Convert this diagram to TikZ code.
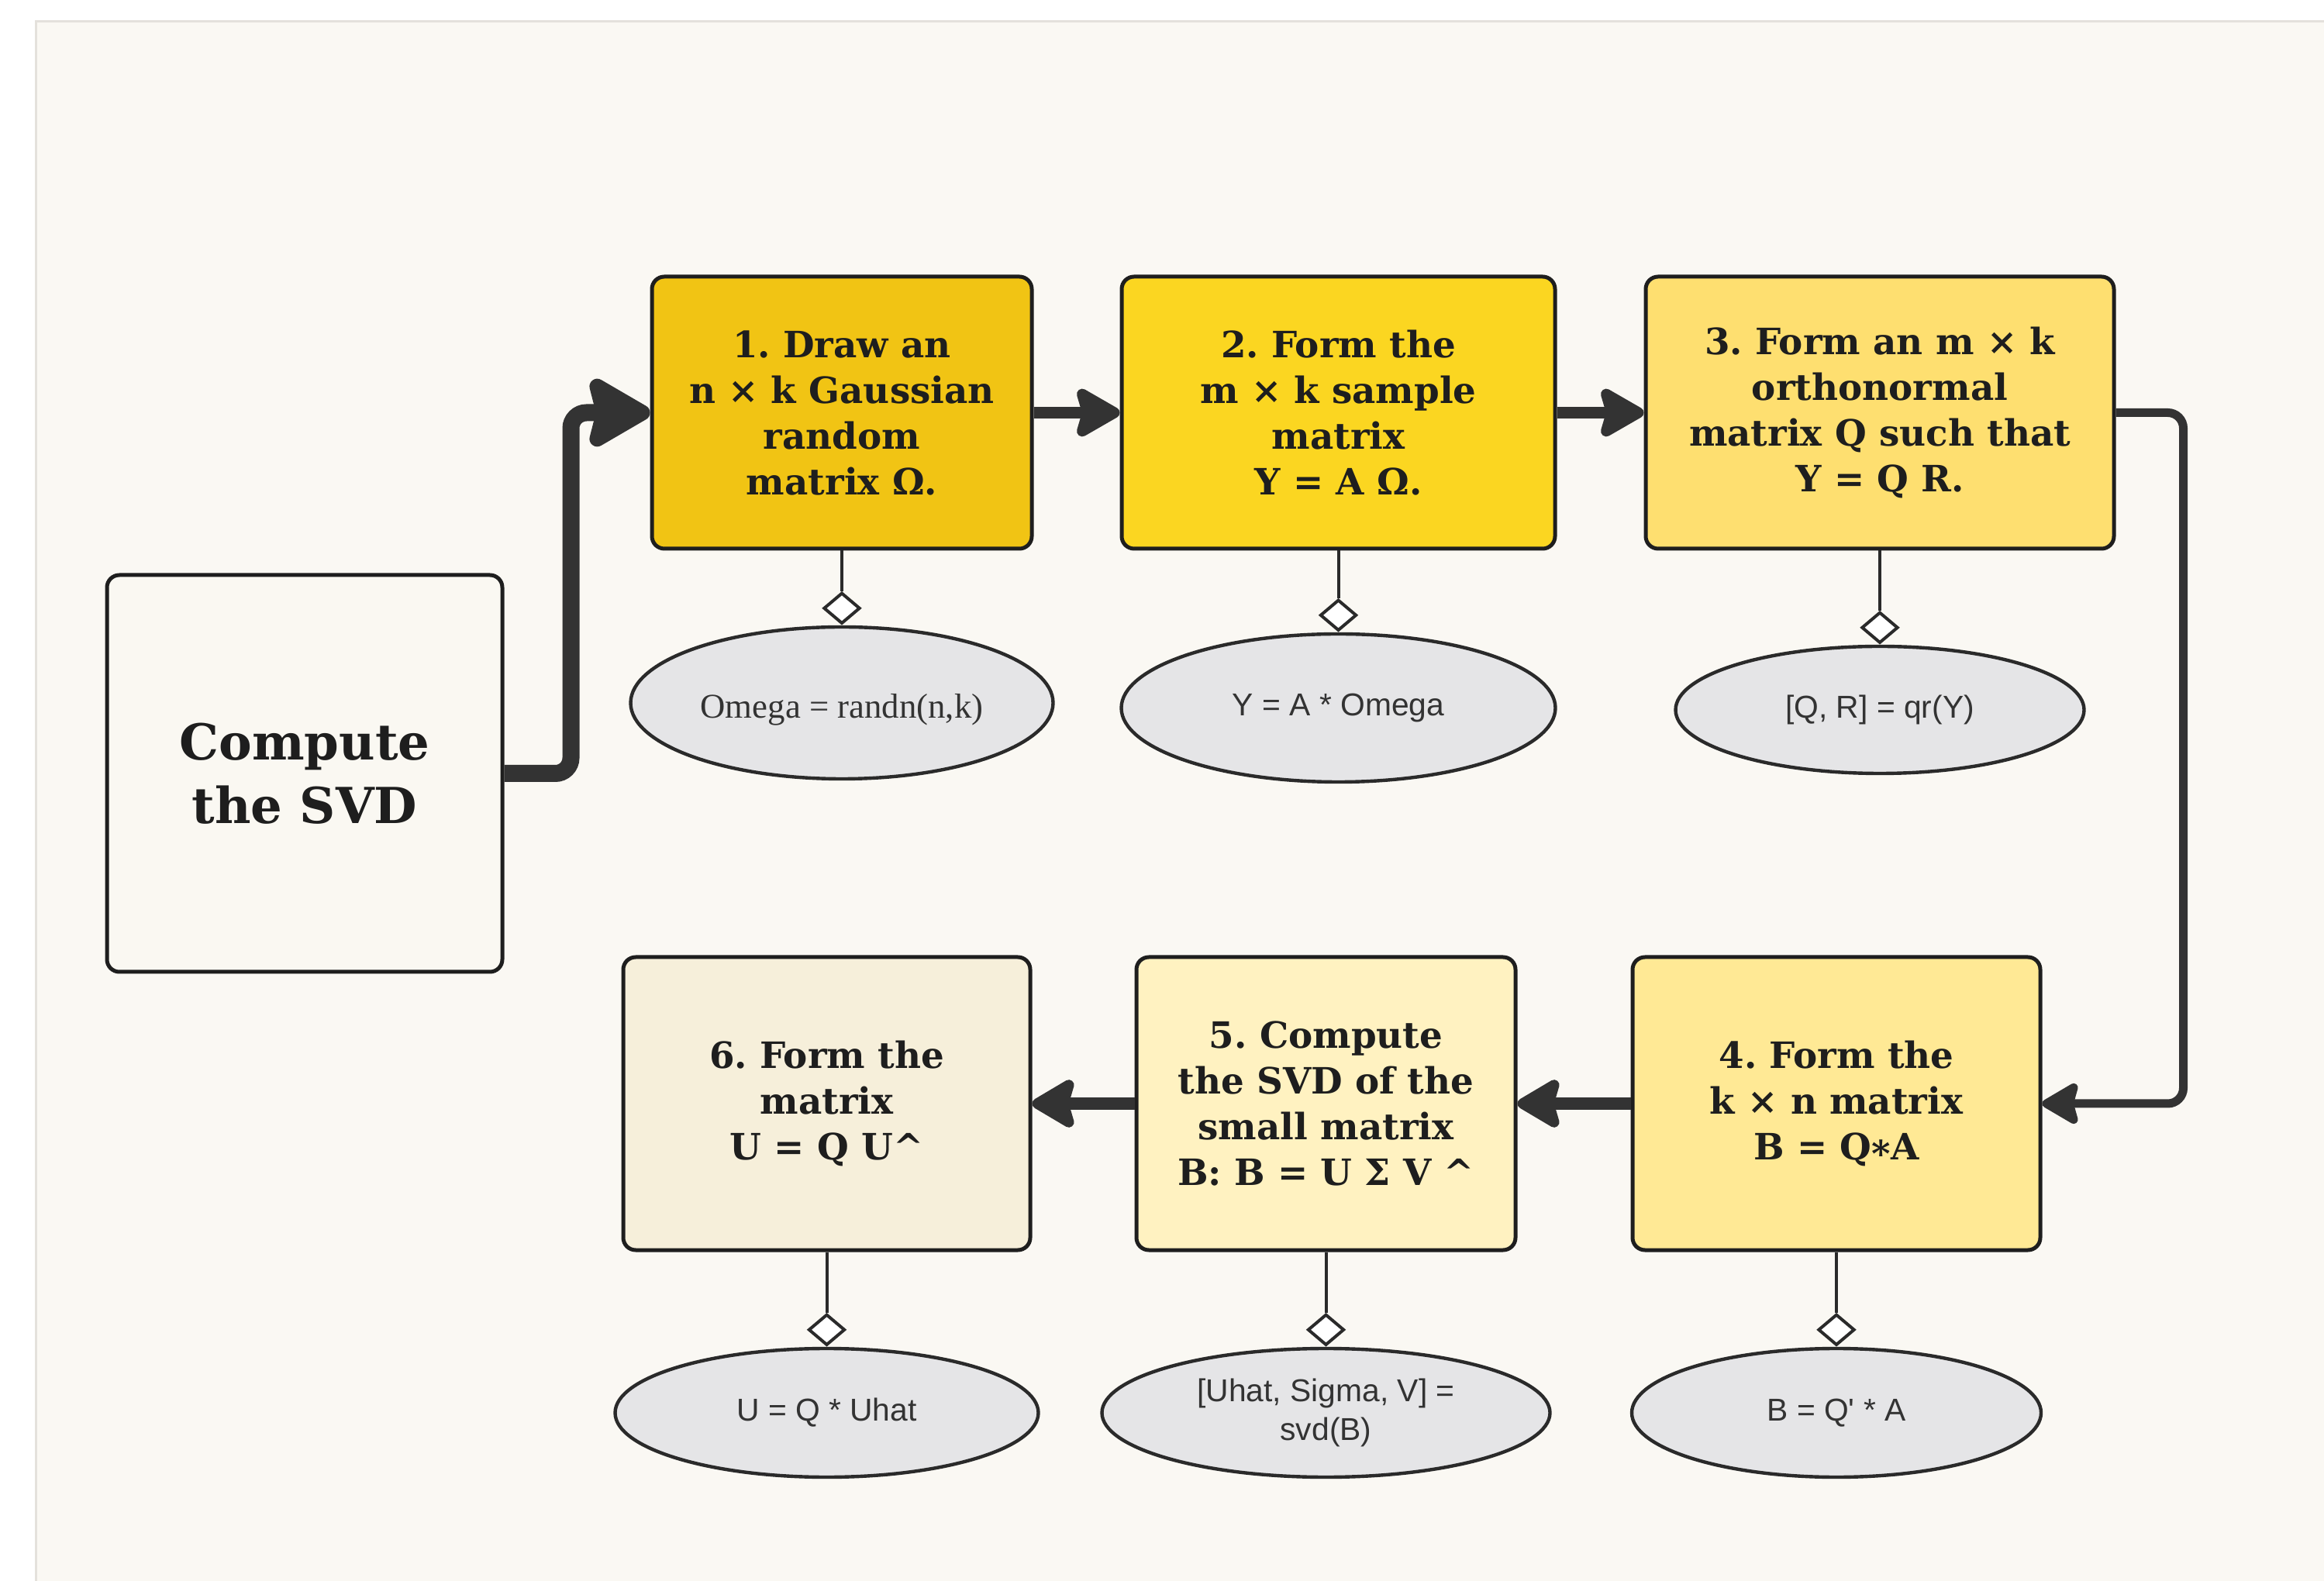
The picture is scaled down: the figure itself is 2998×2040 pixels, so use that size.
\documentclass[tikz,border=0pt]{standalone}
\usepackage{fontspec}
\setmainfont{DejaVu Serif}
\newfontfamily\ellsans{Liberation Sans}
\newfontfamily\ellserif{Liberation Serif}
\usetikzlibrary{arrows.meta,shapes.geometric}
\definecolor{bgc}{HTML}{FAF8F3}
\definecolor{panelline}{HTML}{E4E1DC}
\definecolor{boxline}{HTML}{1E1E1E}
\definecolor{boxtext}{HTML}{1E1E1E}
\definecolor{arrowc}{HTML}{333333}
\definecolor{ellfill}{HTML}{E5E5E7}
\definecolor{ellline}{HTML}{2A2A2A}
\definecolor{elltext}{HTML}{333333}
\definecolor{cA}{HTML}{F1C414}
\definecolor{cB}{HTML}{FBD621}
\definecolor{cC}{HTML}{FEDF70}
\definecolor{cD}{HTML}{FFE995}
\definecolor{cE}{HTML}{FFF2C1}
\definecolor{cF}{HTML}{F6EFDA}
\definecolor{cS}{HTML}{FAF8F2}
\frenchspacing
\begin{document}
\begin{tikzpicture}[x=0.25pt,y=-0.25pt,
  box/.style={draw=boxline, line width=1.25pt, rounded corners=4pt, inner sep=0pt,
    align=center, text=boxtext, font=\bfseries\fontsize{11.7pt}{14.75pt}\selectfont},
  ell/.style={ellipse, draw=ellline, fill=ellfill, line width=1.1pt, inner sep=0pt,
    align=center, text=elltext, font=\ellsans\fontsize{10.2pt}{12.4pt}\selectfont},
  dia/.style={diamond, draw=ellline, fill=white, line width=1pt, inner sep=0pt,
    minimum width=11.75pt, minimum height=10pt, anchor=south},
  conn/.style={draw=ellline, line width=1pt},
  flowbig/.style={draw=arrowc, line width=5.5pt, rounded corners=5pt,
    -{Stealth[length=23pt,width=26pt,inset=3pt,round]}},
  flowtop/.style={draw=arrowc, line width=3.75pt,
    -{Stealth[length=16.5pt,width=18.5pt,inset=2.5pt,round]}},
  flowthin/.style={draw=arrowc, line width=2.75pt, rounded corners=5pt,
    -{Stealth[length=13.5pt,width=15.5pt,inset=2pt,round]}},
  flowbot/.style={draw=arrowc, line width=4pt,
    -{Stealth[length=16pt,width=18.5pt,inset=2.5pt,round]}}
]
\useasboundingbox (0,0) rectangle (2998,2040);
\fill[white] (0,0) rectangle (2998,2040);
\draw[fill=bgc, draw=panelline, line width=0.75pt] (46,28) rectangle (3020,2060);

% main boxes
\node[box, fill=cS, minimum width=127.5pt, minimum height=128pt,
  font=\bfseries\fontsize{16pt}{20.5pt}\selectfont] (svd) at (393,998) {Compute\\the SVD};
\node[box, fill=cA, minimum width=122.5pt, minimum height=87.75pt] (b1) at (1086,532.5)
  {1. Draw an\\n × k Gaussian\\random\\matrix Ω.};
\node[box, fill=cB, minimum width=139.75pt, minimum height=87.75pt] (b2) at (1726.5,532.5)
  {2. Form the\\m × k sample\\matrix\\Y = A Ω.};
\node[box, fill=cC, minimum width=151pt, minimum height=87.75pt] (b3) at (2425,532.5)
  {3. Form an m × k\\orthonormal\\matrix Q such that\\Y = Q R.};
\node[box, fill=cD, minimum width=131.5pt, minimum height=94.5pt] (b4) at (2369,1424)
  {4. Form the\\k × n matrix\\B = Q\raisebox{-0.35ex}{*}A};
\node[box, fill=cE, minimum width=122.25pt, minimum height=94.5pt] (b5) at (1710.5,1424)
  {5. Compute\\the SVD of the\\small matrix\\B: B = U Σ V \textasciicircum};
\node[box, fill=cF, minimum width=131.25pt, minimum height=94.5pt] (b6) at (1066.5,1424)
  {6. Form the\\matrix\\U = Q U\textasciicircum};

% code ellipses
\node[ell, minimum width=136.25pt, minimum height=49pt,
  font=\ellserif\fontsize{11.2pt}{13pt}\selectfont] (e1) at (1086,907)
  {\raisebox{-2.2pt}[\height][\depth]{Omega = randn(n,k)}};
\node[ell, minimum width=140pt, minimum height=47.75pt] (e2) at (1726.5,913.5) {Y = A * Omega};
\node[ell, minimum width=131.75pt, minimum height=41pt] (e3) at (2425,916) {[Q, R] = qr(Y)};
\node[ell, minimum width=132pt, minimum height=41.5pt] (e4) at (2369,1823) {B = Q' * A};
\node[ell, minimum width=144.5pt, minimum height=41.5pt] (e5) at (1710.5,1823) {[Uhat, Sigma, V] =\\svd(B)};
\node[ell, minimum width=136.5pt, minimum height=41.5pt] (e6) at (1066.5,1823) {U = Q * Uhat};

% diamonds and connectors
\foreach \i in {1,...,6}{
  \node[dia] (d\i) at (e\i.north) {};
  \draw[conn] (b\i.south) -- (d\i.north);
}

% flow arrows
\draw[flowbig] (svd.east) -- ++(86,0) |- (b1.west);
\draw[flowtop] (b1.east) -- (b2.west);
\draw[flowtop] (b2.east) -- (b3.west);
\draw[flowthin] (b3.east) -- ++(87,0) |- (b4.east);
\draw[flowbot] (b4.west) -- (b5.east);
\draw[flowbot] (b5.west) -- (b6.east);
\end{tikzpicture}
\end{document}
